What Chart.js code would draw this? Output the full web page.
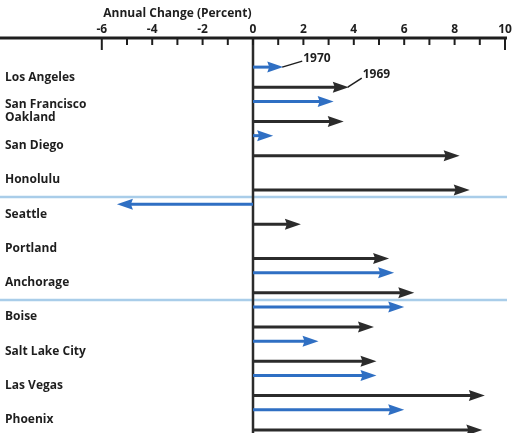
<!DOCTYPE html>
<html><head><meta charset="utf-8">
<script src="https://cdn.jsdelivr.net/npm/chart.js@4"></script>
<style>html,body{margin:0;padding:0;background:#fff;overflow:hidden}</style>
</head><body>
<canvas id="c" width="512" height="440"></canvas>
<script>
// ---- data ----
const cities = ['Los Angeles', ['San Francisco', 'Oakland'], 'San Diego', 'Honolulu', 'Seattle', 'Portland', 'Anchorage', 'Boise', 'Salt Lake City', 'Las Vegas', 'Phoenix'];
const change1970 = [1.2, 3.2, 0.8, null, -5.4, null, 5.6, 6.0, 2.6, 4.9, 6.0];
const change1969 = [3.8, 3.6, 8.2, 8.6, 1.9, 5.4, 6.4, 4.8, 4.9, 9.2, 9.1];
const seriesNames = ['1970', '1969'];
const regionBreaks = [3.5, 6.5];
const axisTitle = 'Annual Change (Percent)';
const axisTitleAt = -3;
const xMin = -10, xMax = 10, firstLabeled = -6;

const FONT = '"Open Sans", "Liberation Sans", sans-serif';
const BLUE = '#2f6fc3';
const BLACK = '#2b2b2b';
const AXIS_Y = 38;

Chart.defaults.font.family = FONT;
Chart.defaults.color = '#1e1e1e';

const decorPlugin = {
  id: 'decor',
  beforeDatasetsDraw(chart) {
    const {ctx, chartArea} = chart;
    const xs = chart.scales.x, ys = chart.scales.y;
    ctx.save();
    ctx.strokeStyle = '#a9cde9';
    ctx.lineWidth = 2.5;
    regionBreaks.forEach(v => {
      const y = Math.round(ys.getPixelForValue(v));
      ctx.beginPath(); ctx.moveTo(0, y); ctx.lineTo(chartArea.right + 2, y); ctx.stroke();
    });
    const x0 = xs.getPixelForValue(0);
    ctx.strokeStyle = BLACK;
    ctx.lineWidth = 2.5;
    ctx.beginPath(); ctx.moveTo(x0, AXIS_Y); ctx.lineTo(x0, chart.height); ctx.stroke();
    ctx.strokeStyle = '#1e1e1e';
    ctx.lineWidth = 3;
    ctx.beginPath(); ctx.moveTo(0, AXIS_Y); ctx.lineTo(chartArea.right + 2, AXIS_Y); ctx.stroke();
    ctx.lineWidth = 2;
    xs.ticks.forEach(t => {
      if (t.value < firstLabeled) return;
      const x = xs.getPixelForValue(t.value);
      const len = (t.value === firstLabeled || t.value === xMax) ? 12 : 7;
      ctx.beginPath(); ctx.moveTo(x, AXIS_Y); ctx.lineTo(x, AXIS_Y + len); ctx.stroke();
    });
    ctx.fillStyle = '#1e1e1e';
    ctx.font = 'bold 12px ' + FONT;
    ctx.textAlign = 'center';
    ctx.textBaseline = 'middle';
    ctx.fillText(axisTitle, xs.getPixelForValue(axisTitleAt), 14);
    ctx.restore();
  },
  beforeDatasetDraw() { return false; },
  afterDatasetsDraw(chart) {
    const ctx = chart.ctx;
    ctx.save();
    chart.data.datasets.forEach((ds, di) => {
      const meta = chart.getDatasetMeta(di);
      let annotated = false;
      meta.data.forEach((el, i) => {
        if (ds.data[i] == null) return;
        const {x, y, base} = el.getProps(['x', 'y', 'base'], true);
        const dir = x >= base ? 1 : -1;
        const headL = 16, headW = 5.5, notch = 2;
        ctx.strokeStyle = ds.backgroundColor;
        ctx.fillStyle = ds.backgroundColor;
        ctx.lineWidth = 3;
        const shaftEnd = x - dir * (headL - notch - 1);
        if ((shaftEnd - base) * dir > 0) {
          ctx.beginPath(); ctx.moveTo(base, y); ctx.lineTo(shaftEnd, y); ctx.stroke();
        }
        ctx.beginPath();
        ctx.moveTo(x, y);
        ctx.lineTo(x - dir * headL, y - headW);
        ctx.lineTo(x - dir * (headL - notch), y);
        ctx.lineTo(x - dir * headL, y + headW);
        ctx.closePath();
        ctx.fill();
        if (!annotated && ds.annot) {
          annotated = true;
          const a = ds.annot;
          ctx.strokeStyle = '#1e1e1e';
          ctx.lineWidth = 1.5;
          ctx.beginPath(); ctx.moveTo(x - 1, y); ctx.lineTo(x + a.dx, y + a.dy); ctx.stroke();
          ctx.fillStyle = '#1e1e1e';
          ctx.font = 'bold 12px ' + FONT;
          ctx.textAlign = 'left';
          ctx.textBaseline = 'middle';
          ctx.fillText(ds.label, x + a.dx + 1, y + a.ty);
        }
      });
    });
    ctx.restore();
  }
};

new Chart(document.getElementById('c'), {
  type: 'bar',
  data: {
    labels: cities,
    datasets: [
      { label: seriesNames[0], data: change1970, backgroundColor: BLUE, annot: {dx: 19, dy: -6, ty: -9} },
      { label: seriesNames[1], data: change1969, backgroundColor: BLACK, annot: {dx: 13, dy: -9, ty: -13} }
    ]
  },
  options: {
    indexAxis: 'y',
    responsive: false,
    animation: false,
    devicePixelRatio: 1,
    categoryPercentage: 1.17,
    barPercentage: 0.15,
    layout: { padding: { left: 1, right: 7, top: 0, bottom: 3 } },
    plugins: { legend: { display: false }, tooltip: { enabled: false }, title: { display: false } },
    scales: {
      x: {
        type: 'linear',
        position: 'top',
        min: xMin, max: xMax,
        grid: { display: false, drawTicks: false },
        border: { display: false },
        ticks: {
          stepSize: 1,
          autoSkip: false,
          maxRotation: 0,
          padding: 23,
          font: { size: 12, weight: 'bold' },
          color: '#1e1e1e',
          callback: v => (v >= firstLabeled && v % 2 === 0) ? String(v) : ''
        },
        afterFit(s) { s.height = 60; s.paddingLeft = 0; s.paddingRight = 0; }
      },
      y: {
        grid: { display: false, drawTicks: false },
        border: { display: false },
        ticks: {
          mirror: true,
          padding: 4,
          font: { size: 12, weight: 'bold', lineHeight: 1.1 },
          color: '#1e1e1e'
        },
        afterFit(s) { s.width = 0; s.paddingTop = 0; s.paddingBottom = 0; }
      }
    }
  },
  plugins: [decorPlugin]
});
</script>
</body></html>
